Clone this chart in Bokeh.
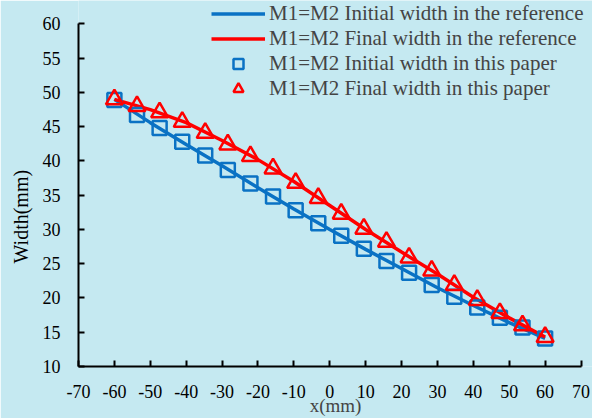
from bokeh.plotting import figure
from bokeh.models import Range1d, FixedTicker, Legend, LegendItem, Title
from bokeh.embed import file_html
from bokeh.resources import INLINE

# ---- data ----
x_line = [-60, -50, -40, -30, -20, -10, 0, 10, 20, 30, 40, 50, 60]
ref_initial = [49.0, 45.6, 42.4, 39.3, 36.1, 33.0, 30.0, 27.1, 24.3, 21.5, 18.9, 16.4, 14.1]
ref_final = [49.0, 47.5, 45.6, 43.0, 40.2, 37.0, 33.5, 30.0, 26.7, 23.5, 20.1, 17.1, 14.3]

x_pts = [-60, -53.7, -47.4, -41.1, -34.7, -28.4, -22.1, -15.8, -9.5, -3.2,
         3.2, 9.5, 15.8, 22.1, 28.4, 34.7, 41.1, 47.4, 53.7, 60]
paper_initial = [48.9, 46.7, 44.8, 42.8, 40.8, 38.7, 36.7, 34.8, 32.8, 30.9,
                 29.1, 27.2, 25.4, 23.7, 21.9, 20.2, 18.6, 17.1, 15.7, 14.1]
paper_final = [49.0, 48.0, 47.1, 45.7, 44.1, 42.4, 40.7, 38.9, 36.8, 34.6,
               32.3, 30.1, 28.2, 25.9, 24.0, 21.9, 19.7, 17.8, 16.0, 14.3]

labels = ["M1=M2 Initial width in the reference",
          "M1=M2 Final width in the reference",
          "M1=M2 Initial width in this paper",
          "M1=M2 Final width in this paper"]
x_ticks = [-70, -60, -50, -40, -30, -20, -10, 0, 10, 20, 30, 40, 50, 60, 70]
y_ticks = [10, 15, 20, 25, 30, 35, 40, 45, 50, 55, 60]
x_title = "x(mm)"
y_title = "Width(mm)"

BG = "#c5e9f1"
BLUE = "#0a72c4"
RED = "#ff0000"
FONT = "Liberation Serif"

# frame spans the full top and right so the legend (which sits outside the
# drawn axes box) is not clipped; the axes themselves are bounded.
p = figure(width=592, height=418, output_backend="svg", toolbar_location=None,
           x_range=Range1d(-70, 73.2), y_range=Range1d(10, 63.43),
           min_border_left=78, min_border_right=0, min_border_top=0, min_border_bottom=51)
p.background_fill_color = BG
p.border_fill_color = BG
p.outline_line_color = None
p.grid.visible = False

for ax in (p.xaxis[0], p.yaxis[0]):
    ax.axis_line_width = 2
    ax.axis_line_color = "black"
    ax.major_tick_line_width = 2
    ax.major_tick_line_color = "black"
    ax.major_tick_in = 6
    ax.major_tick_out = 0
    ax.minor_tick_line_color = None
    ax.major_label_text_font = FONT
    ax.major_label_text_font_size = "18px"
    ax.major_label_text_color = "black"

p.xaxis.ticker = FixedTicker(ticks=x_ticks)
p.yaxis.ticker = FixedTicker(ticks=y_ticks)
p.xaxis.major_label_overrides = {t: str(t) for t in x_ticks}
p.xaxis.bounds = (-70, 70)
p.yaxis.bounds = (10, 60)
p.xaxis.major_label_standoff = 18
p.yaxis.major_label_standoff = 18

p.xaxis.axis_label = x_title
p.xaxis.axis_label_text_font = FONT
p.xaxis.axis_label_text_font_size = "19px"
p.xaxis.axis_label_text_font_style = "normal"
p.xaxis.axis_label_standoff = -6

r1 = p.line(x_line, ref_initial, line_color=BLUE, line_width=3.5)
r2 = p.line(x_line, ref_final, line_color=RED, line_width=3.5)
r3 = p.scatter(x_pts, paper_initial, marker="square", size=14, line_color=BLUE,
               line_width=2.5, fill_alpha=0)
r4 = p.scatter(x_pts, paper_final, marker="triangle", size=17, line_color=RED,
               line_width=2.5, fill_alpha=0)

legend = Legend(items=[LegendItem(label=labels[0], renderers=[r1]),
                       LegendItem(label=labels[1], renderers=[r2]),
                       LegendItem(label=labels[2], renderers=[r3]),
                       LegendItem(label=labels[3], renderers=[r4])],
                location=(133, 265), padding=0, margin=0, spacing=0,
                glyph_width=54, glyph_height=25, label_height=25, label_standoff=4,
                label_text_font=FONT, label_text_font_size="21px",
                label_text_baseline="middle",
                background_fill_alpha=0, border_line_alpha=0)
p.add_layout(legend, "center")

# y-axis title as a side-panel title so it is not clipped to the frame
p.add_layout(Title(text=y_title, align="left", offset=103, standoff=15,
                   text_font=FONT, text_font_size="20px", text_font_style="normal",
                   text_color="black"), "left")

open("out.html", "w").write(file_html(p, INLINE))
